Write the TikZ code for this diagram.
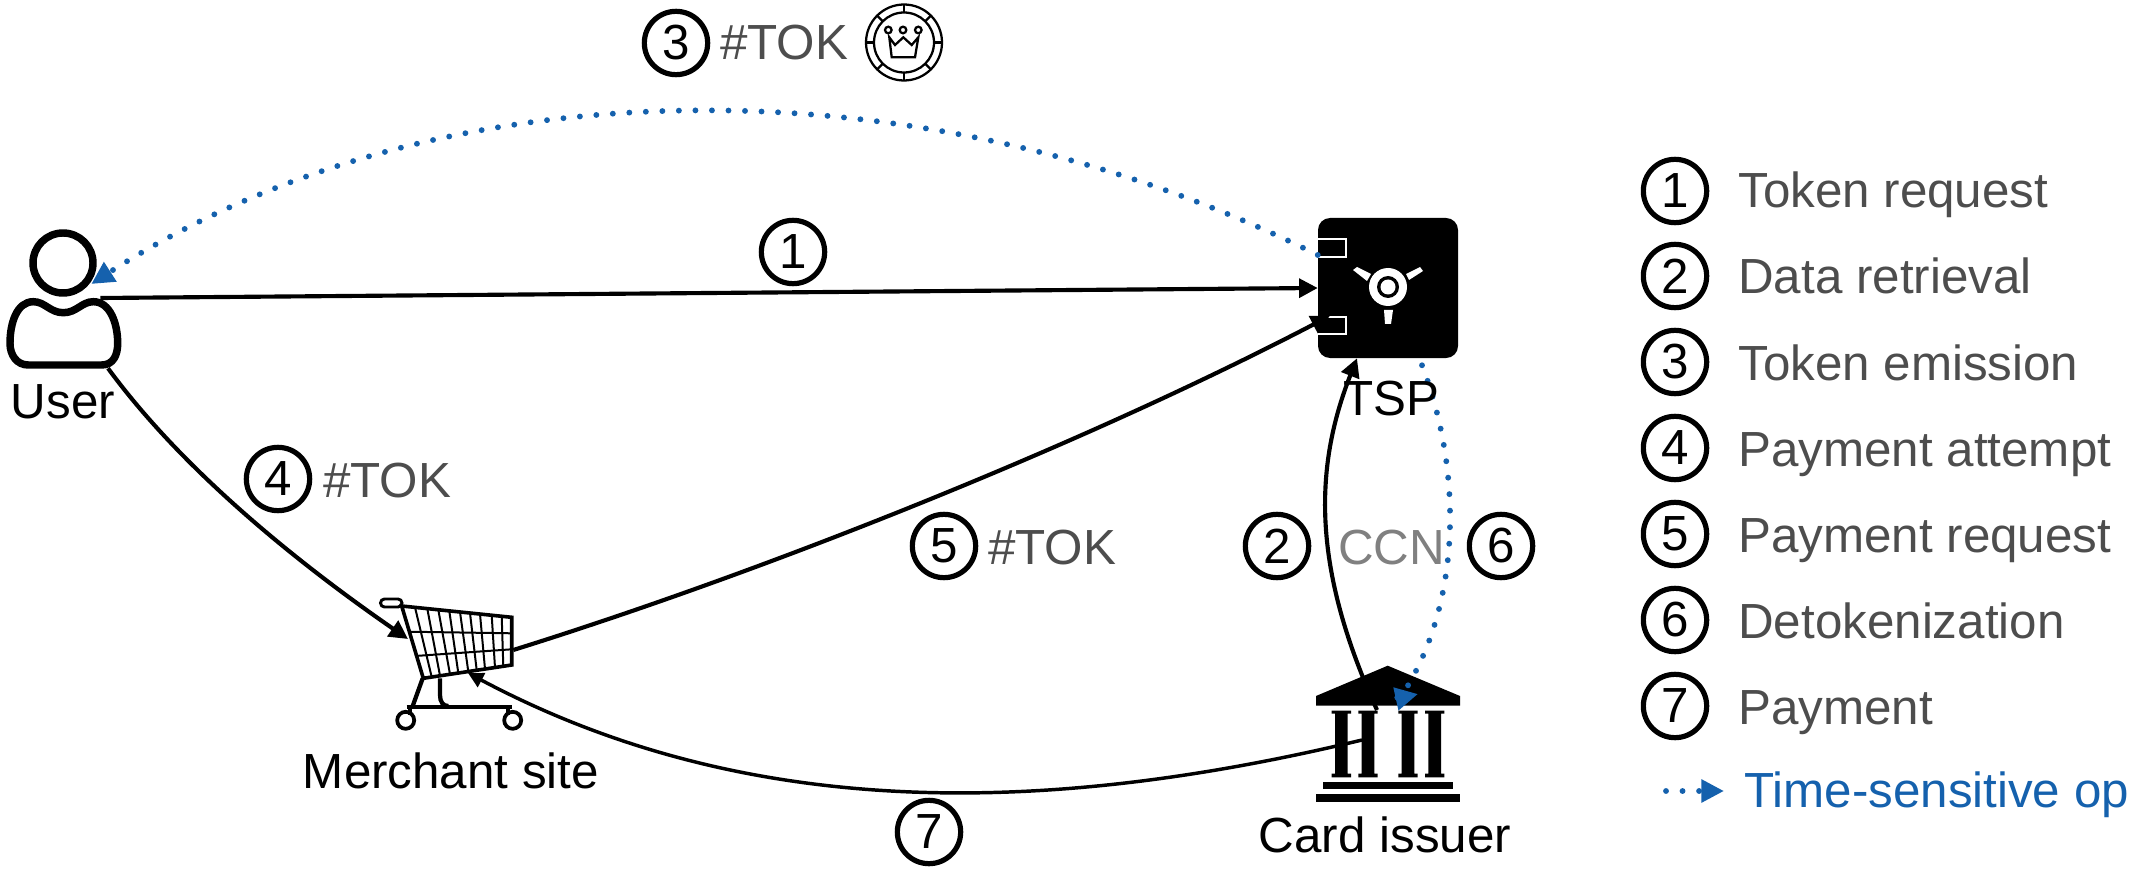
\documentclass[tikz,border=0pt]{standalone}
\usepackage{fontspec}
\setmainfont{Liberation Sans}
\usetikzlibrary{arrows.meta,calc}

\definecolor{opblue}{HTML}{1561AD}
\definecolor{notegray}{HTML}{4D4D4D}
\definecolor{ccngray}{HTML}{808080}

\tikzset{
  numcirc/.style={circle,draw=black,line width=3.9pt,minimum size=47.5pt,inner sep=0pt,font=\fontsize{37}{40}\selectfont},
  lbl/.style={anchor=base,inner sep=0pt,font=\fontsize{37}{40}\selectfont},
  note/.style={anchor=base west,inner sep=0pt,text=notegray,font=\fontsize{37}{40}\selectfont},
  iconbox/.style={inner sep=0pt,rectangle},
  flow/.style={line width=3.1pt,-{Triangle[length=14pt,width=14pt]}},
  thinflow/.style={line width=2.6pt,-{Triangle[length=11.5pt,width=11.5pt]}},
  tsflow/.style={opblue,line width=4.4pt,line cap=round,dash pattern=on 0pt off 12.4pt,-{Triangle[length=17pt,width=16.5pt]}},
  coinline/.style={line width=1.7pt},
  cartline/.style={line width=2.2pt},
  gridline/.style={line width=1.5pt}
}

\begin{document}
\begin{tikzpicture}[x=0.75pt,y=0.75pt,yscale=-1,xscale=1]
\useasboundingbox (0,0) rectangle (2136,873);

%Shape: User
\node[iconbox,minimum width=87pt,minimum height=103.5pt] (user) at (64,299) {};
\draw[line width=5.6pt] (63,263) circle (30);
\draw[line width=5.6pt] (28.3,365) -- (101.7,365) .. controls (113.3,365) and (117.7,355) .. (117.7,343.3) .. controls (117.7,323.3) and (110,301.7) .. (93.3,301.7) .. controls (81.7,301.7) and (76.7,312.7) .. (63.3,312.7) .. controls (50,312.7) and (45,301.7) .. (33.3,301.7) .. controls (16.7,301.7) and (10,323.3) .. (10,343.3) .. controls (10,355) and (16.7,365) .. (28.3,365) -- cycle ;

%Shape: TSP safe
\node[iconbox,fill=black,rounded corners=9pt,minimum width=105pt,minimum height=105pt] (tsp) at (1388,288) {};
\draw[white,line width=1.5pt] (1318,239.5) -- (1346,239.5) -- (1346,257) -- (1318,257) ;
\draw[white,line width=1.5pt] (1318,334) -- (1346,334) -- (1346,317) -- (1318,317) ;
\fill[white] (1388,287) circle (19);
\fill[black] (1388,287) circle (11);
\fill[white] (1388,287) circle (7.5);
\fill[white] (1353,270) -- (1357,267) -- (1371,274) -- (1367,281) -- cycle ;
\fill[white] (1406,274) -- (1420,267) -- (1423,271) -- (1409,280) -- cycle ;
\fill[white] (1384,310) -- (1393,310) -- (1391,324) -- (1385,324) -- cycle ;

%Shape: Cart
\node[iconbox,minimum width=108pt,minimum height=100pt] (cart) at (450,664) {};
\draw[cartline] (380.5,599) [rounded corners=3pt] rectangle (402,607);
\draw[line width=2.7pt] (401.7,606) -- (511.7,617.3) -- (511.7,665) -- (423.3,678.3) -- cycle ;
\draw[gridline] (415,607.3) -- (431.7,677) ;
\draw[gridline] (427.3,608.7) -- (440,675.7) ;
\draw[gridline] (438.3,609.7) -- (450,674.3) ;
\draw[gridline] (449.3,611) -- (458.3,673) ;
\draw[gridline] (460,612) -- (468.3,671.7) ;
\draw[gridline] (470,613) -- (476.7,670.3) ;
\draw[gridline] (480,614) -- (485,669) ;
\draw[gridline] (491.7,615.3) -- (495,667.7) ;
\draw[gridline] (501.7,616.3) -- (503.3,666.3) ;
\draw[gridline] (408.3,631.7) -- (511.7,633.3) ;
\draw[gridline] (415,656) -- (511.7,649.3) ;
\draw[line width=3.2pt] (422.7,678.3) -- (412.7,706) ;
\draw[line width=3.2pt] (440,678.3) -- (440,695) .. controls (440,702) and (443,706) .. (448.3,706) ;
\draw[line width=3pt] (406.7,707.3) -- (511.7,707.3) ;
\draw[line width=3pt] (410,707) -- (410,715) ;
\draw[line width=3pt] (508.3,707) -- (508.3,715) ;
\draw[line width=2.8pt] (405.7,720.3) circle (8.5);
\draw[line width=2.8pt] (512.7,720.3) circle (8.5);

%Shape: Bank
\node[iconbox,minimum width=108pt,minimum height=103pt] (issuer) at (1388,734) {};
\fill (1387.7,665.7) -- (1460,696) -- (1460,705.7) -- (1316,705.7) -- (1316,696) -- cycle ;
\fill (1331.7,710.7) rectangle (1351,713.5) (1335,713.5) rectangle (1347.7,773.5) (1331.7,773.5) rectangle (1351,777.3);
\fill (1358.3,710.7) rectangle (1377.7,713.5) (1361.6,713.5) rectangle (1374.4,773.5) (1358.3,773.5) rectangle (1377.7,777.3);
\fill (1398.3,710.7) rectangle (1417.7,713.5) (1401.6,713.5) rectangle (1414.4,773.5) (1398.3,773.5) rectangle (1417.7,777.3);
\fill (1425,710.7) rectangle (1444.3,713.5) (1428.3,713.5) rectangle (1441,773.5) (1425,773.5) rectangle (1444.3,777.3);
\fill (1323.3,781.7) rectangle (1452.7,789.3);
\fill (1316,794.3) rectangle (1460,802.3);

%Shape: Token coin
\draw[coinline] (904,42.5) circle (38);
\draw[coinline] (904,42.5) circle (30);
\draw[coinline] (904,4.5) -- (904,12.5) (904,72.5) -- (904,80.5) (866,42.5) -- (874,42.5) (934,42.5) -- (942,42.5) ;
\draw[coinline] (877.1,15.6) -- (882.8,21.3) (930.9,15.6) -- (925.2,21.3) (877.1,69.4) -- (882.8,63.7) (930.9,69.4) -- (925.2,63.7) ;
\draw[coinline] (888.3,30) circle (3.3);
\draw[coinline] (903,30) circle (3.3);
\draw[coinline] (918.3,30) circle (3.3);
\draw[coinline] (889.3,37.3) -- (895,45) -- (903.3,37.3) -- (911.7,45) -- (918.3,37.3) -- (915,57.3) -- (891.7,57.3) -- cycle ;

%Connectors
\draw[flow] ($(user.east)+(-22,-1)$) -- (tsp.west) ;
\draw[tsflow] ($(tsp.west)+(0,-33)$) .. controls (914,53) and (430,66) .. ($(user.east)+(-31,-15)$) ;
\draw[flow] ($(user.south)+(44,0)$) .. controls (187,476) and (308,570) .. ($(cart.center)+(-42,-25)$) ;
\draw[flow] ($(cart.east)+(-9,-14)$) .. controls (763,572) and (1080,446) .. ($(tsp.west)+(12,28)$) ;
\draw[flow] ($(issuer.center)+(-11,-24)$) .. controls (1313,570) and (1313,470) .. ($(tsp.south)+(-31,0)$) ;
\draw[tsflow] ($(tsp.south)+(34,7)$) .. controls (1462,470) and (1462,600) .. ($(issuer.center)+(16,-42)$) -- ($(issuer.center)+(7.5,-35)$) -- ($(issuer.center)+(30,-40)$) ;
\draw[thinflow] ($(issuer.center)+(-26,6)$) .. controls (1050,815) and (750,823) .. ($(cart.center)+(18,9)$) ;

% Text Node
\node[lbl] (userlbl) at (63,418) {User};
\node[lbl] (tsplbl) at (1391,415) {TSP};
\node[lbl] (cartlbl) at (451,788) {Merchant site};
\node[lbl] (issuerlbl) at (1385,852) {Card issuer};

% Text Node
\node[numcirc] (n1) at (793,252) {1};
\node[numcirc] (n3) at (676,43) {3};
\node[note] (tok3) at (720,60) {\#TOK};
\node[numcirc] (n4) at (278,479) {4};
\node[note] (tok4) at (323,497) {\#TOK};
\node[numcirc] (n5) at (944,546) {5};
\node[note] (tok5) at (988,564) {\#TOK};
\node[numcirc] (n2) at (1277,546) {2};
\node[note,text=ccngray] (ccn) at (1338,564) {CCN};
\node[numcirc] (n6) at (1501,546) {6};
\node[numcirc] (n7) at (929,832) {7};

% Text Node
\node[numcirc] (leg1) at (1675,191) {1};
\node[note] (legt1) at (1738,208) {Token request};
\node[numcirc] (leg2) at (1675,276) {2};
\node[note] (legt2) at (1738,294) {Data retrieval};
\node[numcirc] (leg3) at (1675,362) {3};
\node[note] (legt3) at (1738,380) {Token emission};
\node[numcirc] (leg4) at (1675,448) {4};
\node[note] (legt4) at (1738,466) {Payment attempt};
\node[numcirc] (leg5) at (1675,534) {5};
\node[note] (legt5) at (1738,552) {Payment request};
\node[numcirc] (leg6) at (1675,620) {6};
\node[note] (legt6) at (1738,638) {Detokenization};
\node[numcirc] (leg7) at (1675,706) {7};
\node[note] (legt7) at (1738,724) {Payment};
\node[note,text=opblue] (legt8) at (1744,807) {Time-sensitive op};
\coordinate (legfrom) at (1666,791);
\coordinate (legto) at (1724,791);
\draw[tsflow] (legfrom) -- (legto) ;

\end{tikzpicture}
\end{document}
